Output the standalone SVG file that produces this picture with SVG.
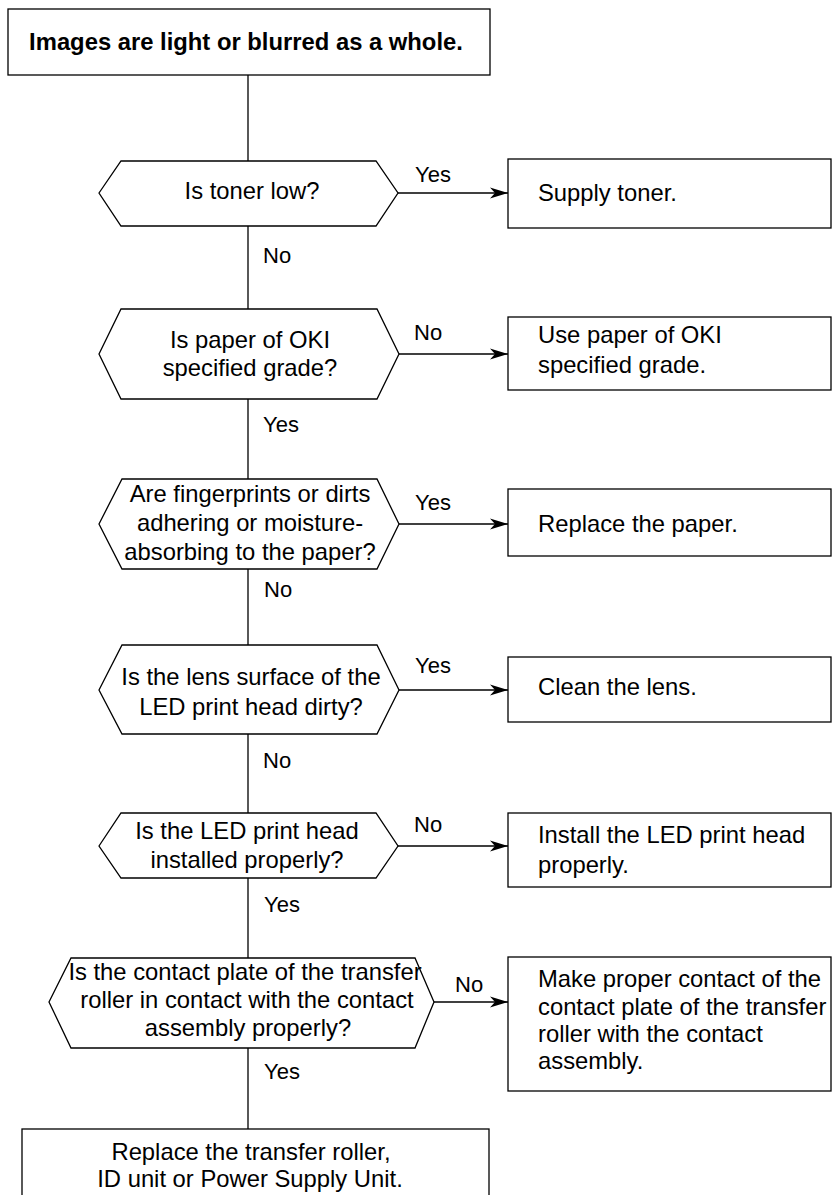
<svg xmlns="http://www.w3.org/2000/svg" width="833" height="1195" viewBox="0 0 833 1195">
<style>
  .shape { fill: #fff; stroke: #000; stroke-width: 1.3; }
  .line { fill: none; stroke: #000; stroke-width: 1.3; }
  .t { font-family: "Liberation Sans", Arial, sans-serif; font-size: 23.8px; fill: #000; }
  .c { text-anchor: middle; }
  .b { font-weight: bold; }
  .lbl { font-family: "Liberation Sans", Arial, sans-serif; font-size: 22px; fill: #000; }
</style>
<defs>
  <marker id="arrow" markerUnits="userSpaceOnUse" markerWidth="20" markerHeight="12" refX="18" refY="6" orient="auto">
    <path d="M18,6 L0,0.5 L5,6 L0,11.5 Z" fill="#000"/>
  </marker>
</defs>
<rect width="833" height="1195" fill="#fff"/>

<g id="connectors">
  <path class="line" d="M248,75 V161 M248,226 V309 M248,399 V479 M248,569 V645 M248,734 V813 M248,878 V958 M248,1048 V1129"/>
  <path class="line" d="M398,193 H508" marker-end="url(#arrow)"/>
  <path class="line" d="M399,354 H508" marker-end="url(#arrow)"/>
  <path class="line" d="M399,524 H508" marker-end="url(#arrow)"/>
  <path class="line" d="M399,690 H508" marker-end="url(#arrow)"/>
  <path class="line" d="M398,846 H508" marker-end="url(#arrow)"/>
  <path class="line" d="M434,1002 H508" marker-end="url(#arrow)"/>
  <text class="lbl" x="415" y="182">Yes</text>
  <text class="lbl" x="263" y="263">No</text>
  <text class="lbl" x="414" y="340">No</text>
  <text class="lbl" x="263" y="432">Yes</text>
  <text class="lbl" x="415" y="510">Yes</text>
  <text class="lbl" x="264" y="597">No</text>
  <text class="lbl" x="415" y="673">Yes</text>
  <text class="lbl" x="263" y="768">No</text>
  <text class="lbl" x="414" y="832">No</text>
  <text class="lbl" x="264" y="912">Yes</text>
  <text class="lbl" x="455" y="992">No</text>
  <text class="lbl" x="264" y="1079">Yes</text>
</g>

<g id="start">
  <rect class="shape" x="8" y="9" width="482" height="66"/>
  <text class="t c b" x="246" y="50">Images are light or blurred as a whole.</text>
</g>

<g id="q1">
  <polygon class="shape" points="99,193 121,161 376,161 398,193 376,226 121,226"/>
  <text class="t c" x="252" y="199">Is toner low?</text>
</g>
<g id="a1">
  <rect class="shape" x="508" y="159" width="323" height="69"/>
  <text class="t" x="538" y="201">Supply toner.</text>
</g>

<g id="q2">
  <polygon class="shape" points="99,354 121,309 377,309 399,354 377,399 121,399"/>
  <text class="t c" x="250" y="348">Is paper of OKI</text>
  <text class="t c" x="250" y="376">specified grade?</text>
</g>
<g id="a2">
  <rect class="shape" x="508" y="317" width="323" height="73"/>
  <text class="t" x="538" y="343">Use paper of OKI</text>
  <text class="t" x="538" y="373">specified grade.</text>
</g>

<g id="q3">
  <polygon class="shape" points="99,524 122,479 377,479 399,524 377,569 122,569"/>
  <text class="t c" x="250" y="502">Are fingerprints or dirts</text>
  <text class="t c" x="250" y="531">adhering or moisture-</text>
  <text class="t c" x="250" y="560">absorbing to the paper?</text>
</g>
<g id="a3">
  <rect class="shape" x="508" y="489" width="323" height="67"/>
  <text class="t" x="538" y="532">Replace the paper.</text>
</g>

<g id="q4">
  <polygon class="shape" points="99,690 122,645 377,645 399,690 377,734 122,734"/>
  <text class="t c" x="251" y="685">Is the lens surface of the</text>
  <text class="t c" x="251" y="715">LED print head dirty?</text>
</g>
<g id="a4">
  <rect class="shape" x="508" y="657" width="323" height="65"/>
  <text class="t" x="538" y="695">Clean the lens.</text>
</g>

<g id="q5">
  <polygon class="shape" points="99,846 121,813 376,813 398,846 376,878 121,878"/>
  <text class="t c" x="247" y="839">Is the LED print head</text>
  <text class="t c" x="247" y="868">installed properly?</text>
</g>
<g id="a5">
  <rect class="shape" x="508" y="813" width="323" height="74"/>
  <text class="t" x="538" y="843">Install the LED print head</text>
  <text class="t" x="538" y="873">properly.</text>
</g>

<g id="q6">
  <polygon class="shape" points="49,1002 71,958 415,958 434,1002 415,1048 71,1048"/>
  <text class="t c" x="245" y="980">Is the contact plate of the transfer</text>
  <text class="t c" x="247" y="1008">roller in contact with the contact</text>
  <text class="t c" x="248" y="1036">assembly properly?</text>
</g>
<g id="a6">
  <rect class="shape" x="508" y="957" width="323" height="134"/>
  <text class="t" x="538" y="987">Make proper contact of the</text>
  <text class="t" x="538" y="1015">contact plate of the transfer</text>
  <text class="t" x="538" y="1042">roller with the contact</text>
  <text class="t" x="538" y="1069">assembly.</text>
</g>

<g id="end">
  <rect class="shape" x="22" y="1129" width="467" height="80"/>
  <text class="t c" x="251" y="1160">Replace the transfer roller,</text>
  <text class="t c" x="250" y="1187">ID unit or Power Supply Unit.</text>
</g>
</svg>
